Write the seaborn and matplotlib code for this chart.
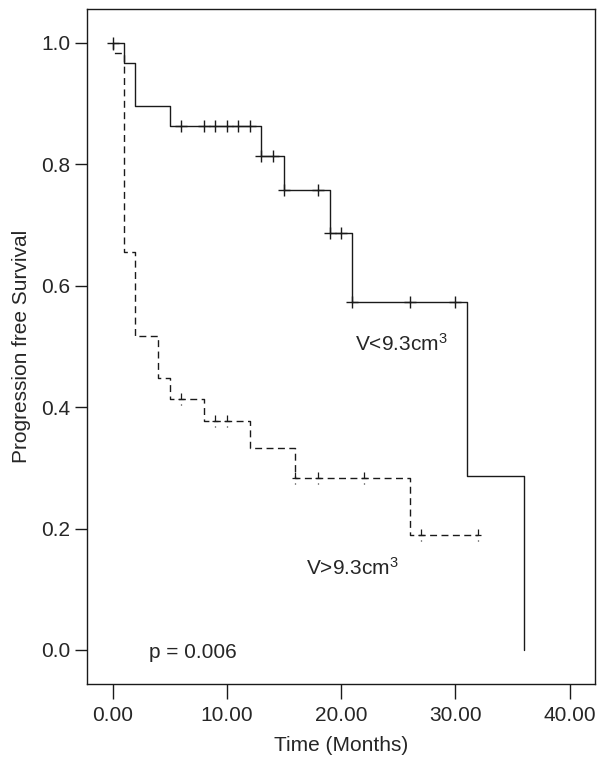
import numpy as np
import pandas as pd
import matplotlib
matplotlib.use("Agg")
import matplotlib.pyplot as plt
from matplotlib.path import Path
from matplotlib.markers import MarkerStyle
import seaborn as sns

# Kaplan-Meier steps
small_times = [0, 1, 2, 5, 13, 15, 19, 21, 31, 36]
small_surv = [1.0, 0.966, 0.896, 0.862, 0.813, 0.757, 0.687, 0.573, 0.286, 0.0]
small_censored = [0, 6, 8, 9, 10, 11, 12, 13, 14, 15, 18, 19, 20, 21, 26, 30]

large_times = [0, 0, 1, 2, 4, 5, 8, 12, 16, 26, 32]
large_surv = [1.0, 0.982, 0.656, 0.517, 0.448, 0.414, 0.377, 0.332, 0.283, 0.189, 0.189]
large_censored = [6, 9, 10, 16, 18, 22, 27, 32]

groups = ["V<9.3cm3", "V>9.3cm3"]
x_ticks = [0, 10, 20, 30, 40]
y_ticks = [0.0, 0.2, 0.4, 0.6, 0.8, 1.0]


def level_at(times, surv, t):
    """Survival value of the step function at time t."""
    idx = np.searchsorted(np.asarray(times), t, side="right") - 1
    return np.asarray(surv)[idx]


sns.set_style("ticks")
plt.rcParams["font.family"] = ["Liberation Sans", "DejaVu Sans"]
plt.rcParams["mathtext.fontset"] = "custom"
plt.rcParams["mathtext.rm"] = "Liberation Sans"
plt.rcParams["mathtext.it"] = "Liberation Sans"
plt.rcParams["font.size"] = 15

curves = pd.concat([
    pd.DataFrame({"time": small_times, "surv": small_surv, "group": groups[0]}),
    pd.DataFrame({"time": large_times, "surv": large_surv, "group": groups[1]}),
], ignore_index=True)

fig = plt.figure(figsize=(5.97, 7.59), dpi=100)
ax = fig.add_axes([0.1452, 0.0988, 0.852, 0.8889])

sns.lineplot(data=curves, x="time", y="surv", style="group",
             dashes={groups[0]: "", groups[1]: (5, 3.2)},
             estimator=None, sort=False, drawstyle="steps-post",
             color="#1a1a1a", linewidth=1.0, legend=False, ax=ax)

# censor marks
ax.plot(small_censored, level_at(small_times, small_surv, small_censored),
        linestyle="none", marker="+", markersize=8, markeredgewidth=1.0,
        color="#1a1a1a")

dashed_tick = Path(
    [(-0.5, 0), (0.5, 0), (0, 0), (0, 1), (0, -0.8), (0, -1)],
    [Path.MOVETO, Path.LINETO, Path.MOVETO, Path.LINETO, Path.MOVETO, Path.LINETO],
)
ax.plot(large_censored, level_at(large_times, large_surv, large_censored),
        linestyle="none", marker=MarkerStyle(dashed_tick), markersize=8.5,
        markeredgewidth=0.9, color="#1a1a1a")

ax.text(21.2, 0.493, r"V<9.3cm$^{3}$", fontsize=15, va="baseline", ha="left")
ax.text(16.95, 0.123, r"V>9.3cm$^{3}$", fontsize=15, va="baseline", ha="left")
ax.text(3.2, -0.0125, "p = 0.006", fontsize=15, va="baseline", ha="left")

ax.set_xlim(-2.27, 42.26)
ax.set_ylim(-0.056, 1.0547)
ax.set_xticks(x_ticks)
ax.set_xticklabels([f"{t:.2f}" for t in x_ticks])
ax.set_yticks(y_ticks)
ax.set_yticklabels([f"{t:.1f}" for t in y_ticks])
ax.tick_params(axis="x", length=10.5, width=1.0, pad=5, labelsize=15, color="#1a1a1a")
ax.tick_params(axis="y", length=9, width=1.0, pad=3, labelsize=15, color="#1a1a1a")
for side in ax.spines.values():
    side.set_visible(True)
    side.set_linewidth(1.0)
    side.set_color("#1a1a1a")

ax.set_xlabel("Time (Months)", fontsize=15, labelpad=8)
ax.set_ylabel("Progression free Survival", fontsize=15, labelpad=7)

fig.savefig("out.png", dpi=100)
